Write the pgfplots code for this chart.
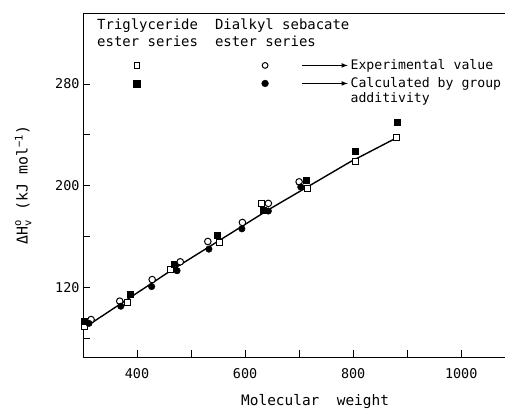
\documentclass[border=0pt]{standalone}
\usepackage{fontspec}
\setmainfont{DejaVu Sans Mono}
\usepackage{amsmath}
\usepackage{pgfplots}
\pgfplotsset{compat=1.18}
\begin{document}
\begin{tikzpicture}
\begin{axis}[name=ax, scale only axis, width=422bp, height=344bp,
  xmin=300, xmax=1081, ymin=65, ymax=336,
  axis x line=box, axis y line=left,
  axis line style={-, line width=0.9pt},
  xtick={400,600,800,1000}, minor xtick={500,700,900},
  ytick={120,200,280}, minor ytick={80,160,240},
  xtick pos=bottom, ytick pos=left,
  tick align=inside,
  major tick length=7bp, minor tick length=7bp,
  every tick/.style={black, line width=0.8pt},
  /pgf/number format/assume math mode=true,
  /pgf/number format/1000 sep={},
  ticklabel style={font=\fontsize{13.5}{15}\selectfont},
  xticklabel style={yshift=-8bp},
  xlabel={Molecular\ \ weight},
  xlabel style={font=\fontsize{14.5}{16}\selectfont, at={(axis description cs:0.55,0)}, anchor=north, yshift=-34bp},
  ylabel={$\text{ΔH}^{\text{o}}_{\text{v}}$ (kJ mol$^{\text{−1}}$)},
  ylabel style={font=\fontsize{15}{17}\selectfont, at={(axis description cs:-0.142,0.5)}, anchor=center},
  clip=false,
]
% fitted line
\addplot[black, line width=1.4pt, mark=none] coordinates {
  (313,91) (461,132.6) (646,181.7) (794,218.6) (881,237.8)};
% Triglyceride experimental
\addplot[only marks, mark=square*, mark size=3pt, mark options={fill=white, draw=black, line width=1pt}] coordinates {
  (303,89) (383,108) (462,134) (553,155) (630,186) (715,198) (805,219) (881,238)};
% Triglyceride calculated
\addplot[only marks, mark=square*, mark size=3pt, mark options={fill=black, draw=black}] coordinates {
  (303,93) (387,114.5) (468,138) (549,161) (633,181) (713,204) (803,227) (882,250)};
% Sebacate experimental
\addplot[only marks, mark=*, mark size=3.3pt, mark options={fill=white, draw=black, line width=1pt}] coordinates {
  (315,94.5) (368,109) (428,126) (480,140) (531,156) (595,171) (643,186) (700,203)};
% Sebacate calculated
\addplot[only marks, mark=*, mark size=3.3pt, mark options={fill=black, draw=black}] coordinates {
  (311,91.5) (370,105) (427,120.5) (474,133) (533,150) (594,166) (643,180) (703,199)};
% key symbols
\addplot[only marks, forget plot, mark=square*, mark size=2.7pt, mark options={fill=white, draw=black, line width=1pt}] coordinates {(400,294.7)};
\addplot[only marks, forget plot, mark=square*, mark size=3.4pt, mark options={fill=black, draw=black}] coordinates {(400,280.5)};
\addplot[only marks, forget plot, mark=*, mark size=2.9pt, mark options={fill=white, draw=black, line width=1pt}] coordinates {(637,294.7)};
\addplot[only marks, forget plot, mark=*, mark size=3.4pt, mark options={fill=black, draw=black}] coordinates {(637,280.5)};
% key text
\node[anchor=north west, align=left, inner sep=0pt, font=\fontsize{14}{17}\selectfont] at (axis cs:326,331.5) {Triglyceride\\ester series};
\node[anchor=north west, align=left, inner sep=0pt, font=\fontsize{14}{17}\selectfont] at (axis cs:544,331.5) {Dialkyl sebacate\\ester series};
\draw[-latex, line width=1.1pt] (axis cs:705,294.7) -- (axis cs:790,294.7);
\draw[-latex, line width=1.1pt] (axis cs:705,280.5) -- (axis cs:790,280.5);
\node[anchor=west, inner sep=0pt, font=\fontsize{13.2}{16}\selectfont] at (axis cs:795,294.7) {Experimental value};
\node[anchor=west, inner sep=0pt, font=\fontsize{13.2}{16}\selectfont] at (axis cs:795,280.5) {Calculated by group};
\node[anchor=west, inner sep=0pt, font=\fontsize{13.2}{16}\selectfont] at (axis cs:795,268.6) {additivity};
\end{axis}
\pgfresetboundingbox
\path ([shift={(-83bp,-52bp)}]ax.south west) rectangle ([shift={(0bp,13bp)}]ax.north east);
\end{tikzpicture}
\end{document}
